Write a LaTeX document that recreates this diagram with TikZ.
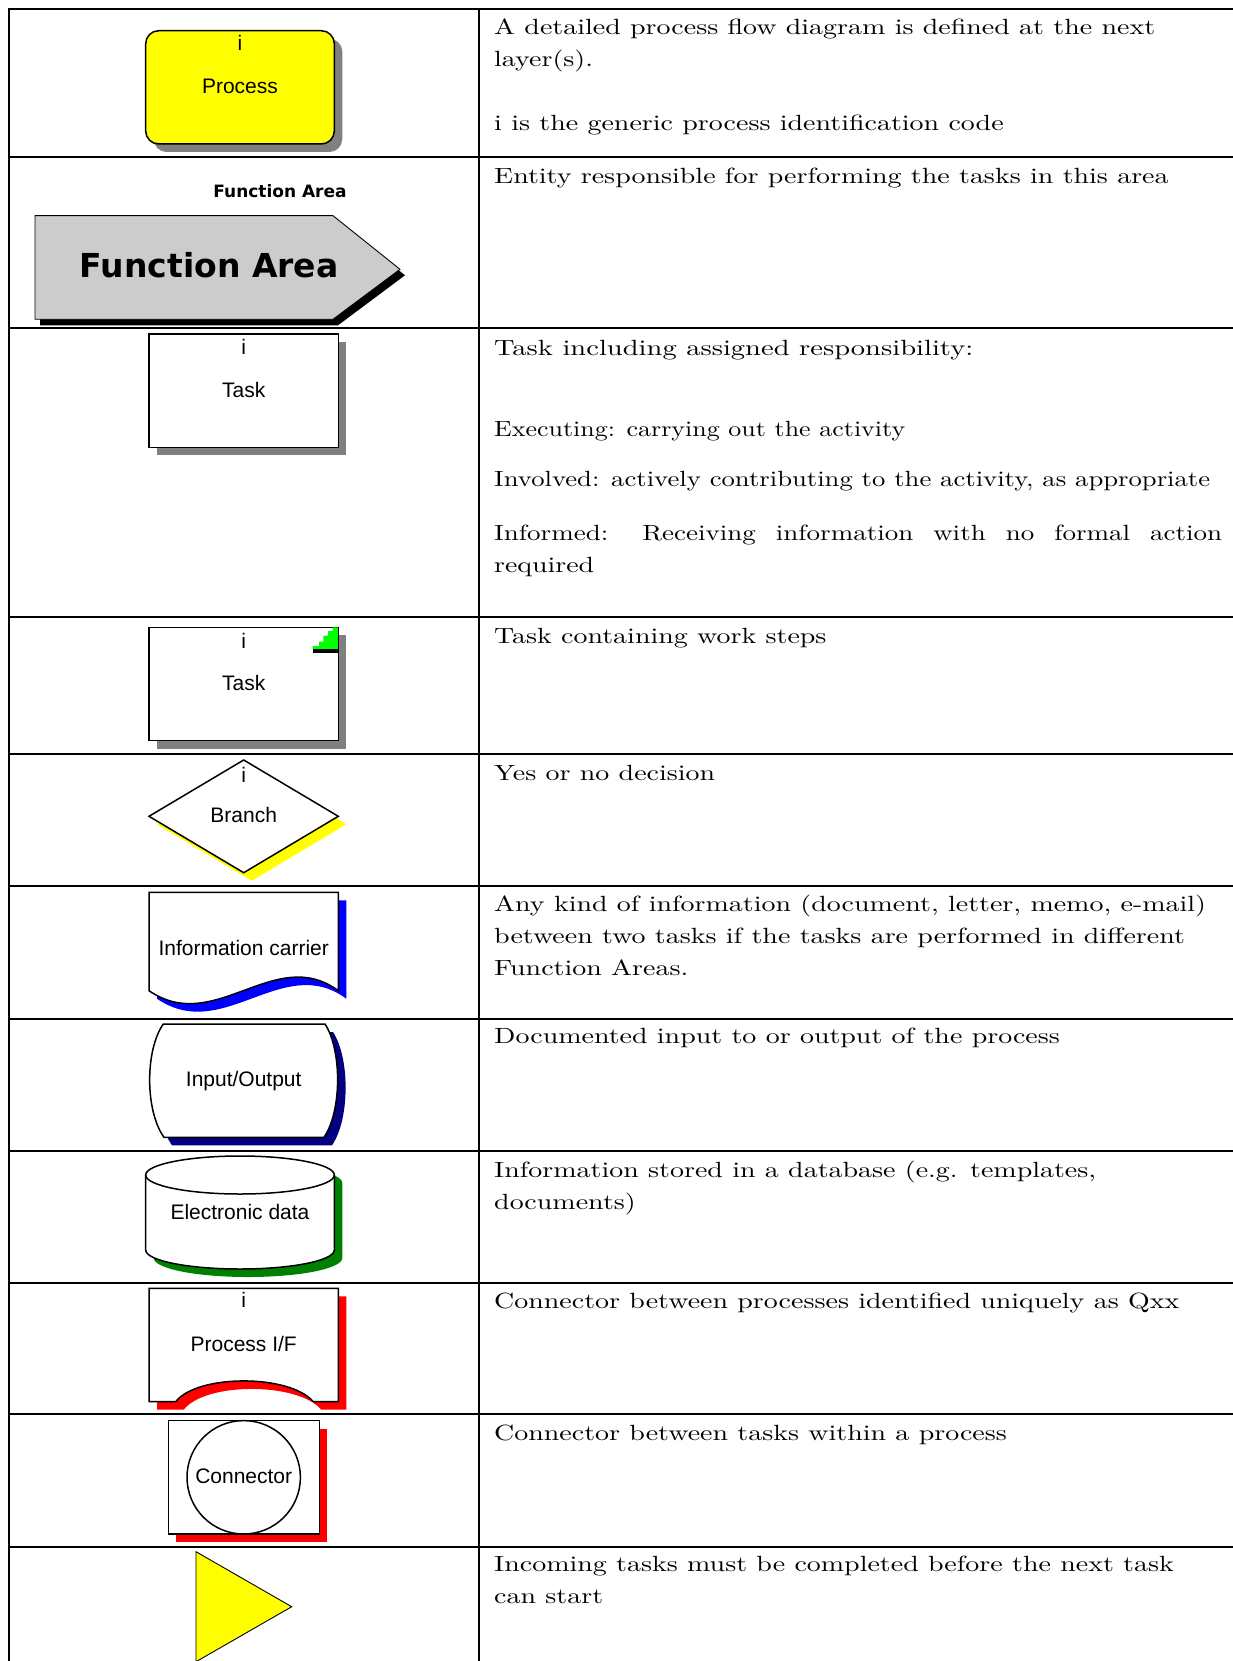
\documentclass[tikz,border=0pt]{standalone}
\usepackage{graphicx}
\usepackage{fontspec}
\newfontfamily\shapefont{Liberation Sans}
\newfontfamily\areafont{DejaVu Sans}

\definecolor{shadowgray}{RGB}{128,128,128}
\definecolor{areagray}{RGB}{204,204,204}
\definecolor{navyshade}{RGB}{0,0,128}
\definecolor{greenshade}{RGB}{0,128,0}
\definecolor{stepgreen}{RGB}{0,255,0}
\definecolor{legendyellow}{RGB}{255,255,0}
\definecolor{legendred}{RGB}{255,0,0}
\definecolor{legendblue}{RGB}{0,0,255}

% description text: 10pt serif, slightly heavier, widened and enlarged
\newcommand\descfontsetup{\fontsize{10}{12}\selectfont\addfontfeatures{FakeBold=0.4}}
\newcommand\desctext[2][2.797]{\scalebox{#1}[2.2]{\descfontsetup #2}}
% description line brought to a given width
\newcommand\fitline[2]{\resizebox{#1}{2.2\height}{\descfontsetup #2}}

% outlines of the legend symbols (y grows downwards)
\def\areapath{(35,215.7) -- (333,215.7) -- (400,269.3) -- (333,319.3) -- (35,319.3) -- cycle}
\def\diamondpath{(149,816.3) -- (243.7,760) -- (338.3,816.3) -- (243.7,872.7) -- cycle}
\def\carrierpath{(149,892.3) -- (338.3,892.3) -- (338.3,990.7) .. controls (275,944) and (215,1036) .. (149,990.7) -- cycle}
\def\iopath{(163.3,1024) -- (325,1024) .. controls (342,1050) and (342,1111) .. (324,1137.3) -- (164,1137.3) .. controls (145,1111) and (145,1050) .. (163.3,1024) -- cycle}
\def\cylpath{(145.7,1175) -- (145.7,1250) arc[start angle=180, end angle=0, x radius=94.3, y radius=19] -- (334.3,1175) arc[start angle=0, end angle=-180, x radius=94.3, y radius=19] -- cycle}
\def\ifpath{(149,1288.3) -- (338.3,1288.3) -- (338.3,1401.7) -- (313.3,1401.7) .. controls (290,1374) and (197,1374) .. (175.7,1401.7) -- (149,1401.7) -- cycle}

\tikzset{
  rule/.style={line width=2pt},
  outline/.style={draw=black, line width=1.5pt, line join=miter},
  thinline/.style={draw=black, line width=0.9pt, line join=miter},
  shade8/.style={shift={(8,8)}},
  lbl/.style={font=\shapefont\fontsize{21}{25}\selectfont, inner sep=0pt, anchor=base},
  desc/.style={inner sep=0pt, anchor=base west},
}

\begin{document}
\begin{tikzpicture}[x=1pt, y=-1pt]
\useasboundingbox (0,0) rectangle (1233,1661);
\fill[white] (0,0) rectangle (1233,1661);

% ---- table rules ----
\foreach \yy in {9,157.3,328.4,617.4,754,885.7,1018.8,1151,1282.7,1414.3,1546.7}
  \draw[rule] (8,\yy) -- (1233,\yy);
\draw[rule] (9,8) -- (9,1661);
\draw[rule] (479,8) -- (479,1661);

% ---- process ----
\fill[shadowgray, rounded corners=13pt] (153.7,38.7) rectangle (342.3,152);
\node[outline, fill=legendyellow, rounded corners=13pt, minimum width=188.6pt,
      minimum height=113.3pt, inner sep=0pt] (proc) at (240,87.35) {};
\node[lbl] (proci) at (240,51) {i};
\node[lbl] (proclbl) at (240,94) {Process};

% ---- function area ----
\node[font=\areafont\bfseries\fontsize{17}{20}\selectfont, inner sep=0pt, anchor=base]
  (areatitle) at (280,197.3) {Function Area};
\fill[black, shift={(5,6)}] \areapath;
\draw[thinline, fill=areagray] \areapath;
\node[font=\areafont\bfseries\fontsize{33}{38}\selectfont, inner sep=0pt, anchor=base]
  (arealbl) at (209.2,277.3) {Function Area};

% ---- task ----
\fill[shadowgray] (157,342) rectangle (346.3,455.3);
\draw[outline, fill=white] (149,334) rectangle (338.3,447.3);
\node[lbl] (taski) at (243.7,354.3) {i};
\node[lbl] (tasklbl) at (243.7,397.3) {Task};

% ---- task with work steps ----
\fill[shadowgray] (157,635.3) rectangle (346.3,748.7);
\draw[outline, fill=white] (149,627.3) rectangle (338.3,740.7);
\fill[stepgreen] (312.7,649.3) -- (312.7,646) -- (319,646) -- (319,641.7) -- (323.3,641.7)
  -- (323.3,635.7) -- (328,635.7) -- (328,631) -- (332.7,631) -- (332.7,627.3)
  -- (338.3,627.3) -- (338.3,649.3) -- cycle;
\fill[black] (312.7,649.3) rectangle (338.3,652.7);
\draw[outline] (338.3,627.3) -- (338.3,652.7);
\node[lbl] (stepi) at (243.7,648.3) {i};
\node[lbl] (steplbl) at (243.7,690.7) {Task};

% ---- branch ----
\fill[legendyellow, shade8] \diamondpath;
\draw[outline, fill=white] \diamondpath;
\node[lbl] (branchi) at (243.7,782.3) {i};
\node[lbl] (branchlbl) at (243.7,822.3) {Branch};

% ---- information carrier ----
\fill[legendblue, shade8] \carrierpath;
\draw[outline, fill=white] \carrierpath;
\node[lbl] (carrierlbl) at (243.7,955) {Information carrier};

% ---- input / output ----
\fill[navyshade, shade8] \iopath;
\draw[outline, fill=white] \iopath;
\node[lbl] (iolbl) at (243.7,1086.7) {Input/Output};

% ---- electronic data ----
\fill[greenshade, shade8] \cylpath;
\draw[outline, fill=white] \cylpath;
\draw[outline] (145.7,1175) arc[start angle=180, end angle=0, x radius=94.3, y radius=19];
\node[lbl] (datalbl) at (240,1219.3) {Electronic data};

% ---- process interface ----
\fill[legendred, shade8] \ifpath;
\draw[outline, fill=white] \ifpath;
\node[lbl] (ifi) at (243.7,1307.7) {i};
\node[lbl] (iflbl) at (243.7,1351) {Process I/F};

% ---- connector ----
\fill[legendred] (176.3,1428.7) rectangle (327.3,1542);
\draw[outline, fill=white] (168.3,1420.7) rectangle (319.3,1534);
\draw[outline] (243.7,1477.3) circle[radius=56.7];
\node[lbl] (connlbl) at (243.7,1483.3) {Connector};

% ---- synchronisation triangle ----
\draw[thinline, fill=legendyellow] (196,1551.7) -- (291.7,1606.7) -- (196,1661.7) -- cycle;

% ---- descriptions ----
\node[desc] (d1a) at (494,35) {\desctext{A detailed process flow diagram is defined at the next}};
\node[desc] (d1b) at (494,67) {\desctext{layer(s).}};
\node[desc] (d1c) at (494,131) {\desctext{i is the generic process identification code}};
\node[desc] (d2) at (494,183.3) {\desctext{Entity responsible for performing the tasks in this area}};
\node[desc] (d3a) at (494,355.5) {\fitline{479pt}{Task including assigned responsibility:}};
\node[desc] (d3b) at (494,436) {\fitline{411pt}{Executing: carrying out the activity}};
\node[desc] (d3c) at (494,486.7) {\fitline{716pt}{Involved: actively contributing to the activity, as appropriate}};
\node[desc] (d3d) at (494,540) {\desctext[2.7]{\makebox[269.6pt][s]{Informed: Receiving information with no formal action}}};
\node[desc] (d3e) at (494,572) {\fitline{100pt}{required}};
\node[desc] (d4) at (494,643.4) {\desctext{Task containing work steps}};
\node[desc] (d5) at (494,780) {\desctext{Yes or no decision}};
\node[desc] (d6a) at (494,911.7) {\desctext{Any kind of information (document, letter, memo, e-mail)}};
\node[desc] (d6b) at (494,943.3) {\desctext{between two tasks if the tasks are performed in different}};
\node[desc] (d6c) at (494,975) {\desctext{Function Areas.}};
\node[desc] (d7) at (494,1043.3) {\desctext{Documented input to or output of the process}};
\node[desc] (d8a) at (494,1177) {\desctext{Information stored in a database (e.g. templates,}};
\node[desc] (d8b) at (494,1209) {\desctext{documents)}};
\node[desc] (d9) at (494,1308.3) {\desctext{Connector between processes identified uniquely as Qxx}};
\node[desc] (d10) at (494,1440) {\desctext{Connector between tasks within a process}};
\node[desc] (d11a) at (494,1571.7) {\desctext{Incoming tasks must be completed before the next task}};
\node[desc] (d11b) at (494,1603.3) {\desctext{can start}};
\end{tikzpicture}
\end{document}
